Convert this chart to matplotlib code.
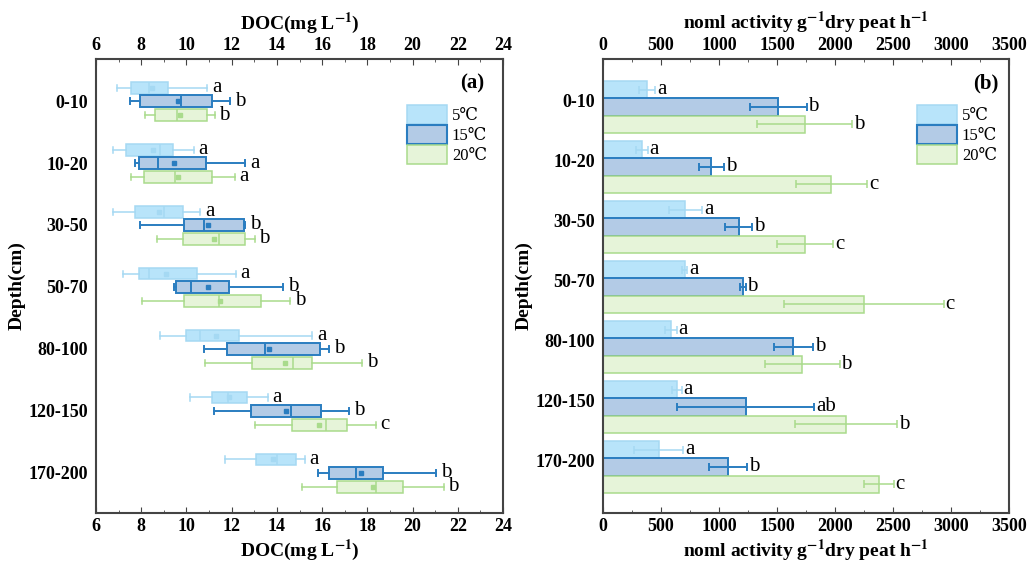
import numpy as np
import matplotlib.pyplot as plt
from matplotlib.patches import Patch

plt.rcParams['font.family'] = ['Liberation Serif', 'DejaVu Serif']
plt.rcParams['mathtext.fontset'] = 'stix'

depths = ['0-10', '10-20', '30-50', '50-70', '80-100', '120-150', '170-200']
temps = ['5℃', '15℃', '20℃']

# DOC box statistics per temperature: whisker low, q1, median, q3, whisker high, mean
doc_5 = {
    'lo':   [6.93, 6.75, 6.75, 7.18, 8.84, 10.15, 11.71],
    'q1':   [7.55, 7.34, 7.71, 7.90, 9.96, 11.11, 13.08],
    'med':  [8.34, 8.81, 9.02, 8.36, 10.61, 11.83, 14.01],
    'q3':   [9.18, 9.39, 9.83, 10.46, 12.33, 12.70, 14.85],
    'hi':   [10.93, 10.32, 10.61, 12.20, 15.57, 13.60, 15.25],
    'mean': [8.49, 8.50, 8.77, 9.11, 11.32, 11.88, 13.81],
}
doc_15 = {
    'lo':   [7.49, 7.71, 7.96, 9.43, 10.77, 11.24, 15.82],
    'q1':   [7.96, 7.90, 9.90, 9.52, 11.79, 12.86, 16.29],
    'med':  [9.76, 8.74, 10.76, 10.20, 13.47, 14.62, 17.49],
    'q3':   [11.15, 10.87, 12.54, 11.90, 15.91, 15.97, 18.71],
    'hi':   [11.94, 12.61, 12.60, 14.29, 16.32, 17.19, 21.04],
    'mean': [9.64, 9.45, 10.96, 10.96, 13.67, 14.41, 17.72],
}
doc_20 = {
    'lo':   [8.18, 7.53, 8.70, 8.05, 10.80, 13.04, 15.13],
    'q1':   [8.62, 8.12, 9.86, 9.89, 12.92, 14.66, 16.65],
    'med':  [9.58, 9.48, 11.45, 11.46, 14.73, 16.18, 18.39],
    'q3':   [10.90, 11.15, 12.60, 13.29, 15.57, 17.12, 19.59],
    'hi':   [11.26, 12.14, 13.03, 14.59, 17.78, 18.37, 21.39],
    'mean': [9.73, 9.64, 11.24, 11.49, 14.37, 15.85, 18.27],
}
doc_letters = [['a', 'b', 'b'], ['a', 'a', 'a'], ['a', 'b', 'b'], ['a', 'b', 'b'],
               ['a', 'b', 'b'], ['a', 'b', 'c'], ['a', 'b', 'b']]

# enzyme activity (mean and error)
act_5 = [382, 333, 710, 704, 586, 635, 480]
act_15 = [1509, 934, 1170, 1207, 1641, 1230, 1078]
act_20 = [1739, 1969, 1744, 2250, 1716, 2095, 2377]
err_5 = [70, 52, 144, 22, 48, 43, 210]
err_15 = [246, 110, 117, 23, 170, 590, 164]
err_20 = [411, 309, 240, 686, 323, 438, 129]
act_letters = [['a', 'b', 'b'], ['a', 'b', 'c'], ['a', 'b', 'c'], ['a', 'b', 'c'],
               ['a', 'b', 'b'], ['a', 'ab', 'b'], ['a', 'b', 'c']]

fills = ['#b8e4fa', '#b3cbe6', '#e6f4d9']
edges = ['#a5d9f3', '#2a7dc0', '#a9db8c']
frame_col = '#444444'

fig = plt.figure(figsize=(10.29, 5.7), dpi=100)
axL = fig.add_axes([96 / 1029, 1 - 513 / 570, 407 / 1029, 454 / 570])
axR = fig.add_axes([603 / 1029, 1 - 513 / 570, 406 / 1029, 454 / 570])

y = np.arange(len(depths))

# ---- (a) boxplots ----
offs = [-0.215, 0.0, 0.225]
for k, d in enumerate([doc_5, doc_15, doc_20]):
    stats = []
    for i in range(len(depths)):
        stats.append(dict(whislo=d['lo'][i], q1=d['q1'][i], med=d['med'][i],
                          q3=d['q3'][i], whishi=d['hi'][i], mean=d['mean'][i],
                          fliers=[]))
    lw = 1.4 if k == 1 else 1.1
    axL.bxp(stats, positions=y + offs[k], vert=False, widths=0.19,
            patch_artist=True, showmeans=True, manage_ticks=False,
            boxprops=dict(facecolor=fills[k], edgecolor=edges[k], linewidth=lw),
            medianprops=dict(color=edges[k], linewidth=lw),
            whiskerprops=dict(color=edges[k], linewidth=lw),
            capprops=dict(color=edges[k], linewidth=lw),
            capwidths=0.1,
            meanprops=dict(marker='s', markersize=2.2, markerfacecolor=edges[k],
                           markeredgecolor=edges[k]))
    for i in range(len(depths)):
        axL.text(d['hi'][i] + 0.2, y[i] + offs[k], doc_letters[i][k],
                 fontsize=15, va='center', ha='left')

axL.set_xlim(6, 24)
axL.set_ylim(6.65, -0.68)
axL.set_xticks(np.arange(6, 25, 2))
axL.set_xticks(np.arange(7, 24, 2), minor=True)
axL.set_yticks(y)
axL.set_yticklabels(depths)
axL.set_xlabel('DOC(mg L$^{\\mathbf{-1}}$)', fontsize=14, fontweight='bold', labelpad=2)
axL.set_ylabel('Depth(cm)', fontsize=14, fontweight='bold', labelpad=2)
secL = axL.secondary_xaxis('top')
secL.set_xticks(np.arange(6, 25, 2))
secL.set_xticks(np.arange(7, 24, 2), minor=True)
secL.set_xlabel('DOC(mg L$^{\\mathbf{-1}}$)', fontsize=14, fontweight='bold', labelpad=6)
axL.text(0.955, 0.945, '(a)', transform=axL.transAxes, fontsize=15,
         fontweight='bold', ha='right', va='center')

# ---- (b) bars ----
h = 0.29
for k, (vals, errs) in enumerate([(act_5, err_5), (act_15, err_15), (act_20, err_20)]):
    pos = y + (k - 1) * h
    lw = 1.4 if k == 1 else 1.1
    axR.barh(pos, vals, height=h, color=fills[k], edgecolor=edges[k], linewidth=lw,
             xerr=errs, error_kw=dict(ecolor=edges[k], elinewidth=lw, capsize=3, capthick=lw))
    for i in range(len(depths)):
        axR.text(vals[i] + errs[i] + 15, pos[i], act_letters[i][k],
                 fontsize=15, va='center', ha='left')

axR.set_xlim(0, 3500)
axR.set_ylim(6.767, -0.8)
axR.set_xticks(np.arange(0, 3501, 500))
axR.set_xticks(np.arange(250, 3500, 500), minor=True)
axR.set_yticks(y - 0.1)
axR.set_yticklabels(depths)
axR.set_xlabel('noml activity g$^{\\mathbf{-1}}$dry peat h$^{\\mathbf{-1}}$',
               fontsize=14, fontweight='bold', labelpad=2)
axR.set_ylabel('Depth(cm)', fontsize=14, fontweight='bold', labelpad=2)
secR = axR.secondary_xaxis('top')
secR.set_xticks(np.arange(0, 3501, 500))
secR.set_xticks(np.arange(250, 3500, 500), minor=True)
secR.set_xlabel('noml activity g$^{\\mathbf{-1}}$dry peat h$^{\\mathbf{-1}}$',
                fontsize=14, fontweight='bold', labelpad=6)
axR.text(0.975, 0.945, '(b)', transform=axR.transAxes, fontsize=15,
         fontweight='bold', ha='right', va='center')

handles = [Patch(facecolor=fills[k], edgecolor=edges[k], linewidth=1.5 if k == 1 else 1.1,
                 label=temps[k]) for k in range(3)]

for ax, sec, lx in [(axL, secL, 0.99), (axR, secR, 1.0)]:
    for sp in ax.spines.values():
        sp.set_color(frame_col)
        sp.set_linewidth(1.5)
    sec.spines['top'].set_visible(False)
    ax.tick_params(axis='y', length=0, labelsize=13, pad=6)
    for lab in ax.get_yticklabels():
        lab.set_fontweight('bold')
    for a in (ax, sec):
        a.tick_params(axis='x', which='major', direction='in', length=4,
                      color=frame_col, labelsize=13)
        a.tick_params(axis='x', which='minor', direction='in', length=2.5,
                      color=frame_col)
        for lab in a.get_xticklabels():
            lab.set_fontweight('bold')
    ax.legend(handles=handles, loc='upper right', bbox_to_anchor=(lx, 0.925),
              frameon=False, fontsize=12, handlelength=2.4, handleheight=1.4,
              handletextpad=0.3, labelspacing=0.05, borderaxespad=0.3)

fig.savefig('out.png', dpi=100)
